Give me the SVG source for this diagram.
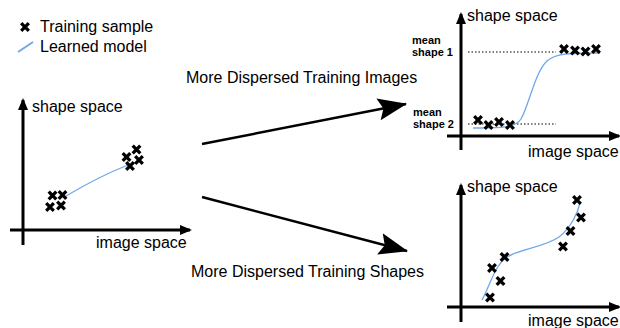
<svg xmlns="http://www.w3.org/2000/svg" width="620" height="328" viewBox="0 0 620 328">
<style>
text{font-family:"Liberation Sans",Arial,sans-serif;fill:#000}
.lbl{font-size:16px}
.mean{font-size:11px;font-weight:bold}
.axis{stroke:#000;stroke-width:3;fill:none}
.curve{stroke:#6fa8e8;stroke-width:1.3;fill:none}
.dot{stroke:#000;stroke-width:1.2;stroke-dasharray:1.5 2;fill:none}
.arrow{stroke:#000;stroke-width:2.4;fill:none}
.x{stroke:#000;stroke-width:3.3;fill:none}
</style>
<defs>
<marker id="ax" markerUnits="userSpaceOnUse" markerWidth="12" markerHeight="10" refX="10" refY="5" orient="auto">
<path d="M0,0 L12,5 L0,10 z" fill="#000"/>
</marker>
<marker id="big" markerUnits="userSpaceOnUse" markerWidth="30" markerHeight="24" refX="28" refY="12" orient="auto">
<path d="M0,1 L29,12 L0,23 L5,12 z" fill="#000"/>
</marker>
<path id="cx" d="M-3.8,-3.8 L3.8,3.8 M-3.8,3.8 L3.8,-3.8" class="x"/>
</defs>

<g id="legend">
<use href="#cx" x="25" y="27"/>
<text class="lbl" x="40" y="32">Training sample</text>
<line x1="18" y1="52" x2="33" y2="42" stroke="#6fa8e8" stroke-width="2"/>
<text class="lbl" x="40" y="52">Learned model</text>
</g>

<g id="plot-left">
<line class="axis" x1="23" y1="245" x2="23" y2="100" marker-end="url(#ax)"/>
<line class="axis" x1="10" y1="230" x2="190" y2="230" marker-end="url(#ax)"/>
<text class="lbl" x="32" y="112">shape space</text>
<text class="lbl" x="96" y="248">image space</text>
<path class="curve" d="M66,196 Q100,176 128,165"/>
<use href="#cx" x="52.5" y="195.5"/>
<use href="#cx" x="62.5" y="195"/>
<use href="#cx" x="50" y="207"/>
<use href="#cx" x="61" y="205.5"/>
<use href="#cx" x="126.5" y="157"/>
<use href="#cx" x="136.5" y="149.5"/>
<use href="#cx" x="139" y="160"/>
<use href="#cx" x="130" y="166"/>
</g>

<g id="plot-top-right">
<line class="axis" x1="461" y1="150" x2="461" y2="14" marker-end="url(#ax)"/>
<line class="axis" x1="447" y1="136" x2="619" y2="136" marker-end="url(#ax)"/>
<text class="lbl" x="467" y="21">shape space</text>
<text class="lbl" x="528" y="157">image space</text>
<text class="mean" x="412" y="44">mean</text>
<text class="mean" x="412" y="56">shape 1</text>
<text class="mean" x="413" y="116">mean</text>
<text class="mean" x="413" y="128">shape 2</text>
<line class="dot" x1="468" y1="52" x2="556" y2="52"/>
<line class="dot" x1="468" y1="124" x2="556" y2="124"/>
<path class="curve" d="M473,128 C495,128 515,129 521,119 C529,105 535,72 547,61 C555,54 565,53 600,53"/>
<use href="#cx" x="478" y="120"/>
<use href="#cx" x="488.5" y="125"/>
<use href="#cx" x="499" y="122"/>
<use href="#cx" x="510" y="125"/>
<use href="#cx" x="564" y="49"/>
<use href="#cx" x="575" y="50.5"/>
<use href="#cx" x="585.5" y="51.5"/>
<use href="#cx" x="596" y="49"/>
</g>

<g id="plot-bottom-right">
<line class="axis" x1="461" y1="322" x2="461" y2="185" marker-end="url(#ax)"/>
<line class="axis" x1="447" y1="307" x2="619" y2="307" marker-end="url(#ax)"/>
<text class="lbl" x="467" y="192">shape space</text>
<text class="lbl" x="528" y="326">image space</text>
<path class="curve" d="M482,300 C490,286 494,266 507,257 C520,249 545,247 559,237 C571,228 578,212 580,203"/>
<use href="#cx" x="577" y="200"/>
<use href="#cx" x="581" y="217.5"/>
<use href="#cx" x="570.5" y="231"/>
<use href="#cx" x="563" y="246.5"/>
<use href="#cx" x="504.5" y="257"/>
<use href="#cx" x="492" y="268"/>
<use href="#cx" x="500.5" y="281"/>
<use href="#cx" x="490" y="297.5"/>
</g>

<g id="connectors">
<line class="arrow" x1="202" y1="144" x2="406" y2="104" marker-end="url(#big)"/>
<text class="lbl" x="186" y="83">More Dispersed Training Images</text>
<line class="arrow" x1="202" y1="197" x2="407" y2="251" marker-end="url(#big)"/>
<text class="lbl" x="191" y="277">More Dispersed Training Shapes</text>
</g>
</svg>
